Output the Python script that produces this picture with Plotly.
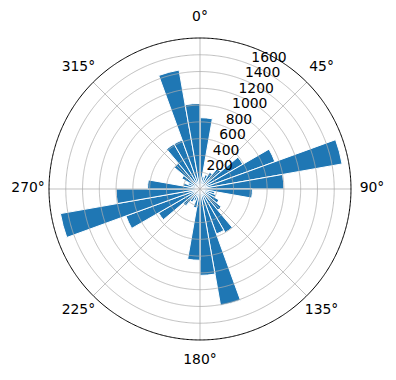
import plotly.graph_objects as go

# Sector start angles (degrees, clockwise from north), each sector 10 degrees wide
sector_start = list(range(0, 360, 10))
sector_width = 10
counts = [850, 150, 180, 230, 320, 590, 950, 1720, 1000, 625,
          180, 200, 260, 330, 600, 570, 1410, 1030, 850, 230,
          150, 180, 260, 570, 940, 1690, 1000, 625, 200, 150,
          250, 400, 620, 620, 1440, 1020]
radial_ticks = [200, 400, 600, 800, 1000, 1200, 1400, 1600]
radial_label_angle = 22.5
angular_ticks = [0, 45, 90, 135, 180, 225, 270, 315]
angular_labels = [f"{a}°" for a in angular_ticks]
r_max = 1800                 # outer frame of the plot
theta_label_r = 2050         # theta labels sit just outside the frame
axis_extent = 2060           # plotly radial range (leaves room for the labels)

centers = [s + sector_width / 2 for s in sector_start]
grid_color = "#b0b0b0"
font_size = 13.9

fig = go.Figure()
fig.add_trace(go.Barpolar(
    r=counts,
    theta=centers,
    width=[sector_width] * len(counts),
    marker=dict(color="#1f77b4", line=dict(color="white", width=1)),
    hoverinfo="skip",
))

# grid drawn above the bars (as in the reference)
circle_theta = [t * 0.5 for t in range(0, 721)]
for rv in radial_ticks:
    fig.add_trace(go.Scatterpolar(
        r=[rv] * len(circle_theta), theta=circle_theta, mode="lines",
        line=dict(color=grid_color, width=0.8), hoverinfo="skip",
    ))
for av in angular_ticks:
    fig.add_trace(go.Scatterpolar(
        r=[0, r_max], theta=[av, av], mode="lines",
        line=dict(color=grid_color, width=0.8), hoverinfo="skip",
    ))
# outer black frame
fig.add_trace(go.Scatterpolar(
    r=[r_max] * len(circle_theta), theta=circle_theta, mode="lines",
    line=dict(color="black", width=1), hoverinfo="skip",
))

# radial tick labels, matplotlib style (bottom-left anchored at the ring)
fig.add_trace(go.Scatterpolar(
    r=radial_ticks, theta=[radial_label_angle] * len(radial_ticks),
    mode="text", text=[str(v) for v in radial_ticks],
    textposition="top right",
    textfont=dict(family="DejaVu Sans", size=font_size, color="black"),
    hoverinfo="skip", cliponaxis=False,
))

# angular tick labels centred on a circle just outside the frame
fig.add_trace(go.Scatterpolar(
    r=[theta_label_r] * len(angular_ticks), theta=angular_ticks,
    mode="text", text=angular_labels, textposition="middle center",
    textfont=dict(family="DejaVu Sans", size=font_size, color="black"),
    hoverinfo="skip", cliponaxis=False,
))

fig.update_layout(
    width=396, height=380,
    margin=dict(l=0, r=0, t=0, b=0),
    paper_bgcolor="white",
    showlegend=False,
    font=dict(family="DejaVu Sans", size=font_size, color="black"),
    polar=dict(
        domain=dict(x=[0.0687, 0.9414], y=[0.0479, 0.9574]),
        bgcolor="white",
        bargap=0,
        angularaxis=dict(
            rotation=90, direction="clockwise",
            tickmode="array", tickvals=angular_ticks,
            ticks="", showticklabels=False,
            showline=False, showgrid=False,
        ),
        radialaxis=dict(
            range=[0, axis_extent],
            tickmode="array", tickvals=radial_ticks,
            ticks="", showline=False, showgrid=False, showticklabels=False,
        ),
    ),
)

fig.write_html("out.html")
